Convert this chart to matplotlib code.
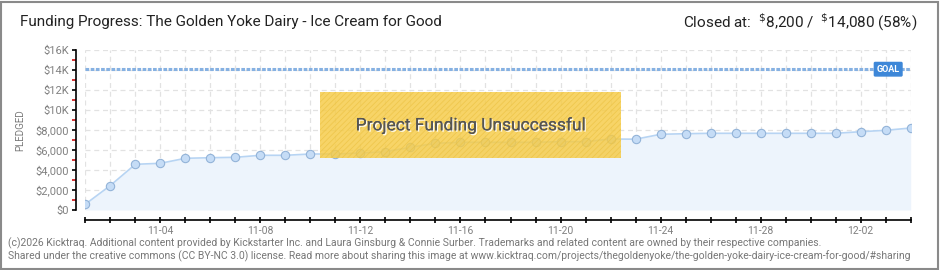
import matplotlib
matplotlib.use("Agg")
import matplotlib.pyplot as plt
from matplotlib.patches import Rectangle
import matplotlib.patheffects as pe
import numpy as np

# ---- data ----
dates = ['11-01', '11-02', '11-03', '11-04', '11-05', '11-06', '11-07', '11-08',
         '11-09', '11-10', '11-11', '11-12', '11-13', '11-14', '11-15', '11-16',
         '11-17', '11-18', '11-19', '11-20', '11-21', '11-22', '11-23', '11-24',
         '11-25', '11-26', '11-27', '11-28', '11-29', '11-30', '12-01', '12-02',
         '12-03', '12-04']
pledged = [580, 2450, 4570, 4670, 5170, 5230, 5270, 5470, 5470, 5600,
           5600, 5700, 5830, 6270, 6670, 6770, 6770, 6770, 6770, 6830,
           6830, 7100, 7080, 7570, 7630, 7670, 7670, 7670, 7670, 7670,
           7670, 7830, 7970, 8200]
goal = 14080
y_ticks = [0, 2000, 4000, 6000, 8000, 10000, 12000, 14000, 16000]
y_tick_labels = ['$0', '$2,000', '$4,000', '$6,000', '$8,000', '$10K', '$12K', '$14K', '$16K']
title = 'Funding Progress: The Golden Yoke Dairy - Ice Cream for Good'
closed_text = r'Closed at:  $^{\$}$8,200 /  $^{\$}$14,080 (58%)'
footer1 = ('(c)2026 Kicktraq. Additional content provided by Kickstarter Inc. and Laura Ginsburg & '
           'Connie Surber. Trademarks and related content are owned by their respective companies.')
footer2 = ('Shared under the creative commons (CC BY-NC 3.0) license. Read more about sharing this image at '
           'www.kicktraq.com/projects/thegoldenyoke/the-golden-yoke-dairy-ice-cream-for-good/#sharing')

plt.rcParams['font.family'] = ['Roboto', 'DejaVu Sans']
plt.rcParams['hatch.color'] = '#e9bf3f'
plt.rcParams['hatch.linewidth'] = 0.6

W, H = 940, 270
fig = plt.figure(figsize=(W / 100, H / 100), dpi=100)
fig.patch.set_facecolor('white')

# figure border
fig.add_artist(Rectangle((1 / W, 1 / H), 937 / W, 267 / H, transform=fig.transFigure,
                         fill=False, edgecolor='#8a8a8a', linewidth=1.5))

x0, x1 = 85.3, 910.7
y_top, y_bot = 50, 210
ax = fig.add_axes([x0 / W, 1 - y_bot / H, (x1 - x0) / W, (y_bot - y_top) / H])
x = np.arange(len(dates))

ax.set_xlim(0, len(dates) - 1)
ax.set_ylim(0, 16000)

# grid / ticks
ax.set_yticks(y_ticks)
ax.set_yticklabels(y_tick_labels)
ax.set_yticks(np.arange(1000, 16000, 2000), minor=True)
ax.set_xticks(x)
ax.set_xticklabels([d if (i % 4 == 3) else '' for i, d in enumerate(dates)])
ax.grid(True, which='major', color='#e2e2e2', linestyle=(0, (4, 3)), linewidth=0.9)
ax.set_axisbelow(True)

for s in ['top', 'right']:
    ax.spines[s].set_visible(False)
ax.spines['left'].set_position(('outward', 6.5))
ax.spines['bottom'].set_position(('outward', 7.2))
for s in ['left', 'bottom']:
    ax.spines[s].set_color('black')
    ax.spines[s].set_linewidth(1.2)

ax.tick_params(axis='y', which='major', direction='out', length=3, width=1.2, color='black',
               labelsize=8, labelcolor='#808080', pad=2)
ax.tick_params(axis='y', which='minor', direction='out', length=3, width=1.2, color='#d01010')
ax.tick_params(axis='x', which='major', direction='inout', length=5, width=1.2, color='black',
               labelsize=7.5, labelcolor='#808080', pad=2)
for lab in ax.get_yticklabels():
    lab.set_parse_math(False)

fig.text(20 / W, 1 - 130 / H, 'PLEDGED', rotation=90, fontsize=7, color='#7a7a7a',
         ha='center', va='center')

# area + line + markers
ax.fill_between(x, 0, pledged, color='#edf4fc', zorder=1, linewidth=0)
ax.plot(x, pledged, color='#b7d4f3', linewidth=1.2, zorder=2)
ax.plot(x, pledged, linestyle='none', marker='o', markersize=6,
        markerfacecolor='#c5dcf6', markeredgecolor='#93b3d8', markeredgewidth=0.8, zorder=3)

# goal line
ax.axhline(goal, color='#86b1e2', linewidth=2.2, linestyle=(0, (1.2, 0.5)), zorder=4)
ax.text(32.1, goal, 'GOAL', ha='center', va='center', fontsize=6.5, color='white',
        fontweight='bold', zorder=6,
        bbox=dict(boxstyle='round,pad=0.25,rounding_size=0.1', facecolor='#3d87d8',
                  edgecolor='#3d87d8'))

# unsuccessful banner
bx0, bx1, by0, by1 = 9.39, 21.43, 5170, 11770
ax.add_patch(Rectangle((bx0, by0), bx1 - bx0, by1 - by0, facecolor='#f6cb45', alpha=0.82,
                       edgecolor='none', zorder=5))
ax.add_patch(Rectangle((bx0, by0), bx1 - bx0, by1 - by0, facecolor='none', hatch='//////',
                       edgecolor='#eabf3c', linewidth=0, alpha=0.6, zorder=5))
ax.text((bx0 + bx1) / 2, (by0 + by1) / 2, 'Project Funding Unsuccessful', ha='center',
        va='center', fontsize=12.5, color='#555555', zorder=7,
        path_effects=[pe.withSimplePatchShadow(offset=(1, -1), shadow_rgbFace='white', alpha=0.9),
                      pe.Normal()])

# header texts
fig.text(20 / W, 1 - 22 / H, title, fontsize=11, color='#222222', ha='left', va='center')
fig.text(917 / W, 1 - 22 / H, closed_text, fontsize=11, color='#222222', ha='right', va='center')

# footer
fig.text(8 / W, 1 - 243 / H, footer1, fontsize=7.5, color='#777777', ha='left', va='center')
fig.text(8 / W, 1 - 256 / H, footer2, fontsize=7.5, color='#777777', ha='left', va='center')

fig.savefig('out.png', dpi=100)
